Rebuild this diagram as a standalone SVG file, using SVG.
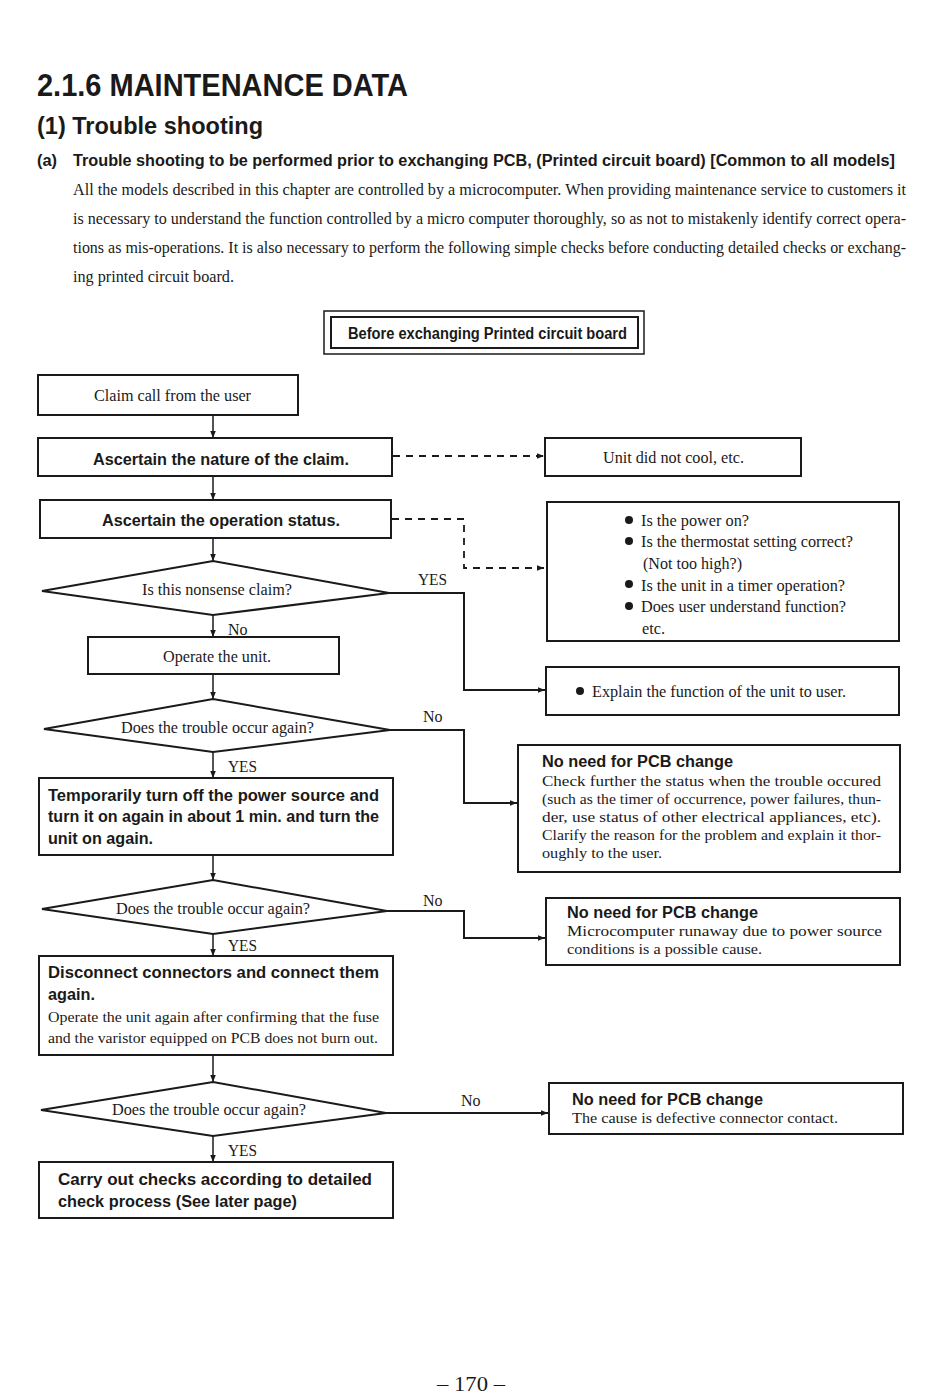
<svg xmlns="http://www.w3.org/2000/svg" width="950" height="1398" viewBox="0 0 950 1398">
<style>
.bg{fill:#fff}
.box{fill:#fff;stroke:#1a1a1a;stroke-width:2}
.dia{fill:#fff;stroke:#1a1a1a;stroke-width:2}
.ln{fill:none;stroke:#1a1a1a;stroke-width:1.5}
.lnb{fill:none;stroke:#1a1a1a;stroke-width:2}
.dash{fill:none;stroke:#1a1a1a;stroke-width:1.8;stroke-dasharray:7,6}
.sb{font-family:"Liberation Sans",Arial,sans-serif;font-weight:bold;fill:#1a1a1a}
.sr{font-family:"Liberation Serif","Times New Roman",serif;fill:#1a1a1a}
.c{text-anchor:middle}
</style>
<defs>
<marker id="ah" viewBox="0 0 10 10" refX="10" refY="5" markerWidth="7" markerHeight="7" markerUnits="userSpaceOnUse" orient="auto">
<path d="M0,1 L10,5 L0,9 z" fill="#1a1a1a"/>
</marker>
</defs>
<rect class="bg" x="0" y="0" width="950" height="1398"/>

<g id="header">
<text class="sb" x="37" y="96" font-size="32" textLength="371" lengthAdjust="spacingAndGlyphs">2.1.6 MAINTENANCE DATA</text>
<text class="sb" x="37" y="134" font-size="24" textLength="226" lengthAdjust="spacingAndGlyphs">(1) Trouble shooting</text>
<text class="sb" x="37" y="166" font-size="16" textLength="20" lengthAdjust="spacingAndGlyphs">(a)</text>
<text class="sb" x="73" y="166" font-size="16" textLength="822" lengthAdjust="spacingAndGlyphs">Trouble shooting to be performed prior to exchanging PCB, (Printed circuit board) [Common to all models]</text>
<text class="sr" x="73" y="195" font-size="16" textLength="833" lengthAdjust="spacingAndGlyphs">All the models described in this chapter are controlled by a microcomputer. When providing maintenance service to customers it</text>
<text class="sr" x="73" y="224" font-size="16" textLength="833" lengthAdjust="spacingAndGlyphs">is necessary to understand the function controlled by a micro computer thoroughly, so as not to mistakenly identify correct opera-</text>
<text class="sr" x="73" y="253" font-size="16" textLength="833" lengthAdjust="spacingAndGlyphs">tions as mis-operations. It is also necessary to perform the following simple checks before conducting detailed checks or exchang-</text>
<text class="sr" x="73" y="282" font-size="16" textLength="161" lengthAdjust="spacingAndGlyphs">ing printed circuit board.</text>
</g>

<g id="title-box">
<rect x="324" y="311" width="320" height="43" fill="#fff" stroke="#1a1a1a" stroke-width="1.5"/>
<rect x="331" y="317" width="307" height="31" fill="#fff" stroke="#1a1a1a" stroke-width="2"/>
<text class="sb" x="348" y="339" font-size="16" textLength="279" lengthAdjust="spacingAndGlyphs">Before exchanging Printed circuit board</text>
</g>

<g id="connectors">
<line class="ln" x1="213" y1="415" x2="213" y2="438" marker-end="url(#ah)"/>
<line class="dash" x1="393" y1="456" x2="544" y2="456" marker-end="url(#ah)"/>
<line class="ln" x1="213" y1="476" x2="213" y2="500" marker-end="url(#ah)"/>
<polyline class="dash" points="392,519 464,519 464,568 544,568" marker-end="url(#ah)"/>
<line class="ln" x1="213" y1="538" x2="213" y2="561" marker-end="url(#ah)"/>
<polyline class="lnb" points="389,593 464,593 464,690 545,690" marker-end="url(#ah)"/>
<line class="ln" x1="213" y1="615" x2="213" y2="637" marker-end="url(#ah)"/>
<line class="ln" x1="213" y1="674" x2="213" y2="699" marker-end="url(#ah)"/>
<polyline class="lnb" points="390,730 464,730 464,803 517,803" marker-end="url(#ah)"/>
<line class="ln" x1="213" y1="752" x2="213" y2="778" marker-end="url(#ah)"/>
<line class="ln" x1="213" y1="855" x2="213" y2="880" marker-end="url(#ah)"/>
<polyline class="lnb" points="387,911 464,911 464,938 545,938" marker-end="url(#ah)"/>
<line class="ln" x1="213" y1="934" x2="213" y2="956" marker-end="url(#ah)"/>
<line class="ln" x1="213" y1="1055" x2="213" y2="1082" marker-end="url(#ah)"/>
<line class="lnb" x1="386" y1="1113" x2="548" y2="1113" marker-end="url(#ah)"/>
<line class="ln" x1="213" y1="1136" x2="213" y2="1162" marker-end="url(#ah)"/>
<text class="sr" x="418" y="585" font-size="16" textLength="29" lengthAdjust="spacingAndGlyphs">YES</text>
<text class="sr" x="228" y="635" font-size="16">No</text>
<text class="sr" x="423" y="722" font-size="16">No</text>
<text class="sr" x="228" y="772" font-size="16" textLength="29" lengthAdjust="spacingAndGlyphs">YES</text>
<text class="sr" x="423" y="906" font-size="16">No</text>
<text class="sr" x="228" y="951" font-size="16" textLength="29" lengthAdjust="spacingAndGlyphs">YES</text>
<text class="sr" x="461" y="1106" font-size="16">No</text>
<text class="sr" x="228" y="1156" font-size="16" textLength="29" lengthAdjust="spacingAndGlyphs">YES</text>
</g>

<g id="claim">
<rect class="box" x="38" y="375" width="260" height="40"/>
<text class="sr c" x="172.5" y="401" font-size="16" textLength="157" lengthAdjust="spacingAndGlyphs">Claim call from the user</text>
</g>

<g id="nature">
<rect class="box" x="38" y="438" width="354" height="38"/>
<text class="sb c" x="221" y="465" font-size="16" textLength="256" lengthAdjust="spacingAndGlyphs">Ascertain the nature of the claim.</text>
</g>

<g id="not-cool">
<rect class="box" x="545" y="438" width="256" height="38"/>
<text class="sr c" x="673.5" y="463" font-size="16" textLength="141" lengthAdjust="spacingAndGlyphs">Unit did not cool, etc.</text>
</g>

<g id="status">
<rect class="box" x="40" y="500" width="351" height="38"/>
<text class="sb c" x="221" y="526" font-size="16" textLength="238" lengthAdjust="spacingAndGlyphs">Ascertain the operation status.</text>
</g>

<g id="checks">
<rect class="box" x="547" y="502" width="352" height="139"/>
<circle cx="629" cy="520" r="4" fill="#1a1a1a"/>
<circle cx="629" cy="541" r="4" fill="#1a1a1a"/>
<circle cx="629" cy="584" r="4" fill="#1a1a1a"/>
<circle cx="629" cy="606" r="4" fill="#1a1a1a"/>
<text class="sr" x="641" y="526" font-size="16" textLength="108" lengthAdjust="spacingAndGlyphs">Is the power on?</text>
<text class="sr" x="641" y="547" font-size="16" textLength="212" lengthAdjust="spacingAndGlyphs">Is the thermostat setting correct?</text>
<text class="sr" x="643" y="569" font-size="16" textLength="99" lengthAdjust="spacingAndGlyphs">(Not too high?)</text>
<text class="sr" x="641" y="591" font-size="16" textLength="204" lengthAdjust="spacingAndGlyphs">Is the unit in a timer operation?</text>
<text class="sr" x="641" y="612" font-size="16" textLength="205" lengthAdjust="spacingAndGlyphs">Does user understand function?</text>
<text class="sr" x="642" y="634" font-size="16" textLength="23" lengthAdjust="spacingAndGlyphs">etc.</text>
</g>

<g id="nonsense">
<polygon class="dia" points="42,591 213,561 389,593 213,615"/>
<text class="sr c" x="217" y="595" font-size="16" textLength="150" lengthAdjust="spacingAndGlyphs">Is this nonsense claim?</text>
</g>

<g id="operate">
<rect class="box" x="88" y="637" width="251" height="37"/>
<text class="sr c" x="217" y="662" font-size="16" textLength="108" lengthAdjust="spacingAndGlyphs">Operate the unit.</text>
</g>

<g id="explain">
<rect class="box" x="546" y="667" width="353" height="48"/>
<circle cx="580" cy="691" r="4" fill="#1a1a1a"/>
<text class="sr" x="592" y="697" font-size="16" textLength="254" lengthAdjust="spacingAndGlyphs">Explain the function of the unit to user.</text>
</g>

<g id="again1">
<polygon class="dia" points="44,729 213,699 390,730 213,752"/>
<text class="sr c" x="217.5" y="733" font-size="16" textLength="193" lengthAdjust="spacingAndGlyphs">Does the trouble occur again?</text>
</g>

<g id="nopcb1">
<rect class="box" x="518" y="745" width="382" height="127"/>
<text class="sb" x="542" y="767" font-size="16" textLength="191" lengthAdjust="spacingAndGlyphs">No need for PCB change</text>
<text class="sr" x="542" y="786" font-size="15" textLength="339" lengthAdjust="spacingAndGlyphs">Check further the status when the trouble occured</text>
<text class="sr" x="542" y="804" font-size="15" textLength="339" lengthAdjust="spacingAndGlyphs">(such as the timer of occurrence, power failures, thun-</text>
<text class="sr" x="542" y="822" font-size="15" textLength="339" lengthAdjust="spacingAndGlyphs">der, use status of other electrical appliances, etc).</text>
<text class="sr" x="542" y="840" font-size="15" textLength="339" lengthAdjust="spacingAndGlyphs">Clarify the reason for the problem and explain it thor-</text>
<text class="sr" x="542" y="858" font-size="15" textLength="120" lengthAdjust="spacingAndGlyphs">oughly to the user.</text>
</g>

<g id="restart">
<rect class="box" x="39" y="778" width="354" height="77"/>
<text class="sb" x="48" y="801" font-size="16" textLength="331" lengthAdjust="spacingAndGlyphs">Temporarily turn off the power source and</text>
<text class="sb" x="48" y="822" font-size="16" textLength="331" lengthAdjust="spacingAndGlyphs">turn it on again in about 1 min. and turn the</text>
<text class="sb" x="48" y="844" font-size="16" textLength="105" lengthAdjust="spacingAndGlyphs">unit on again.</text>
</g>

<g id="again2">
<polygon class="dia" points="42,909 213,880 387,911 213,934"/>
<text class="sr c" x="213" y="914" font-size="16" textLength="194" lengthAdjust="spacingAndGlyphs">Does the trouble occur again?</text>
</g>

<g id="nopcb2">
<rect class="box" x="546" y="898" width="354" height="67"/>
<text class="sb" x="567" y="918" font-size="16" textLength="191" lengthAdjust="spacingAndGlyphs">No need for PCB change</text>
<text class="sr" x="567" y="936" font-size="15" textLength="315" lengthAdjust="spacingAndGlyphs">Microcomputer runaway due to power source</text>
<text class="sr" x="567" y="954" font-size="15" textLength="195" lengthAdjust="spacingAndGlyphs">conditions is a possible cause.</text>
</g>

<g id="reconnect">
<rect class="box" x="39" y="956" width="354" height="99"/>
<text class="sb" x="48" y="978" font-size="16" textLength="331" lengthAdjust="spacingAndGlyphs">Disconnect connectors and connect them</text>
<text class="sb" x="48" y="1000" font-size="16" textLength="47" lengthAdjust="spacingAndGlyphs">again.</text>
<text class="sr" x="48" y="1022" font-size="15" textLength="331" lengthAdjust="spacingAndGlyphs">Operate the unit again after confirming that the fuse</text>
<text class="sr" x="48" y="1043" font-size="15" textLength="330" lengthAdjust="spacingAndGlyphs">and the varistor equipped on PCB does not burn out.</text>
</g>

<g id="again3">
<polygon class="dia" points="41,1110 213,1082 386,1113 213,1136"/>
<text class="sr c" x="209" y="1115" font-size="16" textLength="194" lengthAdjust="spacingAndGlyphs">Does the trouble occur again?</text>
</g>

<g id="nopcb3">
<rect class="box" x="549" y="1083" width="354" height="51"/>
<text class="sb" x="572" y="1105" font-size="16" textLength="191" lengthAdjust="spacingAndGlyphs">No need for PCB change</text>
<text class="sr" x="572" y="1123" font-size="15" textLength="266" lengthAdjust="spacingAndGlyphs">The cause is defective connector contact.</text>
</g>

<g id="detailed">
<rect class="box" x="39" y="1162" width="354" height="56"/>
<text class="sb" x="58" y="1185" font-size="16" textLength="314" lengthAdjust="spacingAndGlyphs">Carry out checks according to detailed</text>
<text class="sb" x="58" y="1207" font-size="16" textLength="239" lengthAdjust="spacingAndGlyphs">check process (See later page)</text>
</g>

<g id="page-number">
<text class="sr c" x="471" y="1391" font-size="21" textLength="68" lengthAdjust="spacingAndGlyphs">– 170 –</text>
</g>
</svg>
